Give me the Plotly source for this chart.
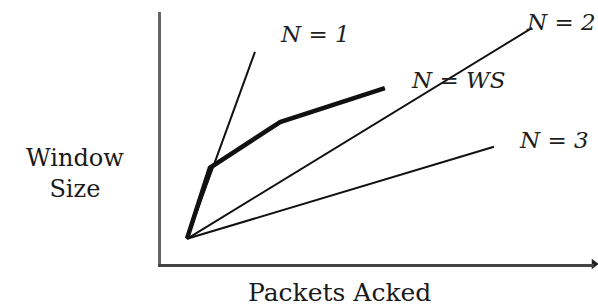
import plotly.graph_objects as go

# Data (abstract units: packets acked vs window size)
n1_x = [0.6, 2.17]
n1_y = [0.6, 5.05]
n2_x = [0.6, 8.57]
n2_y = [0.6, 5.62]
n3_x = [0.6, 7.69]
n3_y = [0.6, 2.79]
ws_x = [0.6, 1.13, 2.75, 5.17]
ws_y = [0.6, 2.29, 3.38, 4.19]

labels = ["N = 1", "N = WS", "N = 3"]
label_x = [2.70, 5.72, 8.22]
label_y = [5.48, 4.38, 2.95]
label_n2 = "N = 2"
label_n2_y = 5.76

x_title = "Packets Acked"
y_title = "Window<br>Size"

XMAX, YMAX = 10, 6
ink = "#111111"
lab_font = dict(family="DejaVu Serif", size=23, color="#1e1e1e")

fig = go.Figure()
fig.add_trace(go.Scatter(x=n1_x, y=n1_y, mode="lines", line=dict(color=ink, width=2)))
fig.add_trace(go.Scatter(x=n2_x, y=n2_y, mode="lines", line=dict(color=ink, width=2)))
fig.add_trace(go.Scatter(x=n3_x, y=n3_y, mode="lines", line=dict(color=ink, width=2)))
fig.add_trace(go.Scatter(x=ws_x, y=ws_y, mode="lines", line=dict(color=ink, width=4.5)))
# arrowhead at the end of the x axis
fig.add_trace(go.Scatter(x=[XMAX], y=[0], mode="markers", cliponaxis=False,
                         marker=dict(symbol="triangle-right", size=9, color="#222")))

for t, x, y in zip(labels, label_x, label_y):
    fig.add_annotation(x=x, y=y, xref="x", yref="y", text="<i>" + t + "</i>",
                       showarrow=False, xanchor="left", yanchor="middle", font=lab_font)
fig.add_annotation(x=1.009, y=label_n2_y, xref="paper", yref="y", text="<i>" + label_n2 + "</i>",
                   showarrow=False, xanchor="right", yanchor="middle", font=lab_font)

fig.add_annotation(x=-0.199, y=0.361, xref="paper", yref="paper", text=y_title,
                   showarrow=False, xanchor="center", yanchor="middle",
                   font=dict(family="DejaVu Serif", size=24, color="#1a1a1a"))
fig.add_annotation(x=0.413, y=-0.115, xref="paper", yref="paper", text=x_title,
                   showarrow=False, xanchor="center", yanchor="middle",
                   font=dict(family="DejaVu Serif", size=25, color="#1a1a1a"))

fig.update_layout(
    width=598, height=306,
    margin=dict(l=161, r=4, t=12, b=42),
    paper_bgcolor="white", plot_bgcolor="white",
    showlegend=False,
    xaxis=dict(range=[0, XMAX], showgrid=False, zeroline=False, showticklabels=False,
               ticks="", showline=True, linecolor="#444", linewidth=3),
    yaxis=dict(range=[0, YMAX], showgrid=False, zeroline=False, showticklabels=False,
               ticks="", showline=True, linecolor="#666", linewidth=3),
)

fig.write_html("out.html", config={"displayModeBar": False},
               post_script="document.body.style.margin='0';")
